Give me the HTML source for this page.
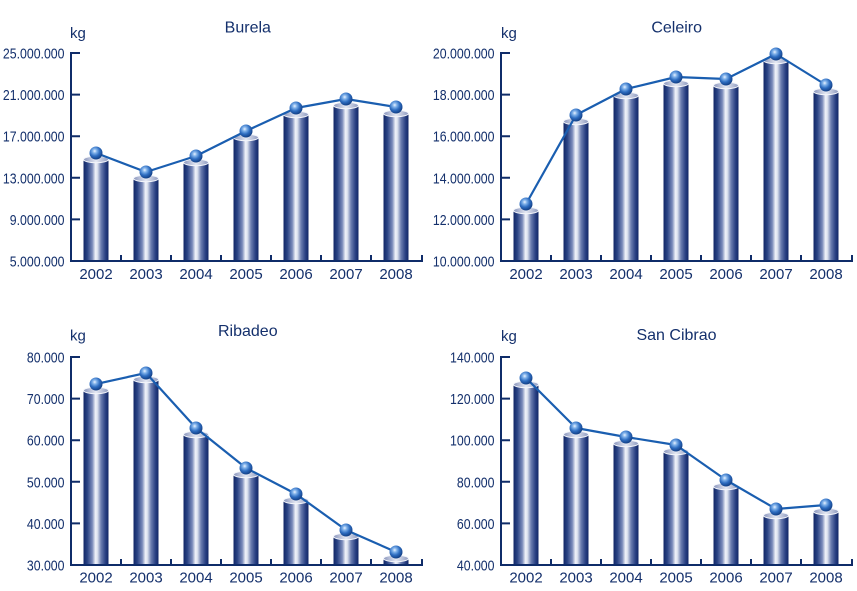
<!DOCTYPE html>
<html><head><meta charset="utf-8">
<style>
html,body{margin:0;padding:0;background:#fff;}
svg{display:block;}
text{font-family:"Liberation Sans",Arial,sans-serif;fill:#14306c;}
</style></head>
<body>
<svg width="857" height="591" viewBox="0 0 857 591" xmlns="http://www.w3.org/2000/svg">
<defs>
<linearGradient id="bar" x1="0" y1="0" x2="1" y2="0">
<stop offset="0" stop-color="#112766"/>
<stop offset="0.15" stop-color="#2a4384"/>
<stop offset="0.35" stop-color="#7a8aba"/>
<stop offset="0.48" stop-color="#f2f4fa"/>
<stop offset="0.56" stop-color="#dbe0ee"/>
<stop offset="0.70" stop-color="#6c7eb0"/>
<stop offset="0.88" stop-color="#283f82"/>
<stop offset="1" stop-color="#112766"/>
</linearGradient>
<linearGradient id="cap" x1="0" y1="0" x2="1" y2="0">
<stop offset="0" stop-color="#8a96bd"/>
<stop offset="0.5" stop-color="#e6e9f3"/>
<stop offset="1" stop-color="#8e9ac0"/>
</linearGradient>
<radialGradient id="ball" cx="0.4" cy="0.35" r="0.65">
<stop offset="0" stop-color="#eaf2ff"/>
<stop offset="0.25" stop-color="#80b2ea"/>
<stop offset="0.6" stop-color="#2e6dc1"/>
<stop offset="1" stop-color="#123f86"/>
</radialGradient>
</defs>

<!-- ================= BURELA ================= -->
<text x="247.8" y="32.5" font-size="16" text-anchor="middle">Burela</text>
<text x="70" y="38" font-size="15">kg</text>
<g font-size="15">
<text x="2.9" y="58.5" textLength="61.6" lengthAdjust="spacingAndGlyphs">25.000.000</text>
<text x="2.9" y="100.1" textLength="61.6" lengthAdjust="spacingAndGlyphs">21.000.000</text>
<text x="2.9" y="141.7" textLength="61.6" lengthAdjust="spacingAndGlyphs">17.000.000</text>
<text x="2.9" y="183.3" textLength="61.6" lengthAdjust="spacingAndGlyphs">13.000.000</text>
<text x="9.8" y="224.9" textLength="54.7" lengthAdjust="spacingAndGlyphs">9.000.000</text>
<text x="9.8" y="266.5" textLength="54.7" lengthAdjust="spacingAndGlyphs">5.000.000</text>
</g>
<g fill="url(#bar)">
<rect x="83.5" y="159.5" width="25" height="100.5"/>
<rect x="133.5" y="178.5" width="25" height="81.5"/>
<rect x="183.5" y="162.5" width="25" height="97.5"/>
<rect x="233.5" y="137.5" width="25" height="122.5"/>
<rect x="283.5" y="114.5" width="25" height="145.5"/>
<rect x="333.5" y="105.5" width="25" height="154.5"/>
<rect x="383.5" y="113.5" width="25" height="146.5"/>
</g>
<g fill="url(#cap)" stroke="#f4f6fb" stroke-width="1">
<ellipse cx="96" cy="159.5" rx="12.5" ry="3.2"/>
<ellipse cx="146" cy="178.5" rx="12.5" ry="3.2"/>
<ellipse cx="196" cy="162.5" rx="12.5" ry="3.2"/>
<ellipse cx="246" cy="137.5" rx="12.5" ry="3.2"/>
<ellipse cx="296" cy="114.5" rx="12.5" ry="3.2"/>
<ellipse cx="346" cy="105.5" rx="12.5" ry="3.2"/>
<ellipse cx="396" cy="113.5" rx="12.5" ry="3.2"/>
</g>
<polyline points="96,153 146,172 196,156 246,131 296,108 346,99 396,107" fill="none" stroke="#1a5eb0" stroke-width="2.2" stroke-linejoin="round"/>
<g fill="url(#ball)">
<circle cx="96" cy="153" r="6.5"/>
<circle cx="146" cy="172" r="6.5"/>
<circle cx="196" cy="156" r="6.5"/>
<circle cx="246" cy="131" r="6.5"/>
<circle cx="296" cy="108" r="6.5"/>
<circle cx="346" cy="99" r="6.5"/>
<circle cx="396" cy="107" r="6.5"/>
</g>
<g stroke="#0f2c69" stroke-width="2" fill="none">
<path d="M71,52 V262 M70,261 H423"/>
<path d="M71,53 H80 M71,94.6 H80 M71,136.2 H80 M71,177.8 H80 M71,219.4 H80"/>
<path d="M121,255 V261 M171,255 V261 M221,255 V261 M271,255 V261 M321,255 V261 M371,255 V261 M422,255 V261"/>
</g>
<g font-size="15" text-anchor="middle">
<text x="96" y="279">2002</text><text x="146" y="279">2003</text><text x="196" y="279">2004</text><text x="246" y="279">2005</text><text x="296" y="279">2006</text><text x="346" y="279">2007</text><text x="396" y="279">2008</text>
</g>

<!-- ================= CELEIRO ================= -->
<text x="676.7" y="32.5" font-size="16" text-anchor="middle">Celeiro</text>
<text x="501" y="38" font-size="15">kg</text>
<g font-size="15">
<text x="432.9" y="58.5" textLength="61.6" lengthAdjust="spacingAndGlyphs">20.000.000</text>
<text x="432.9" y="100.1" textLength="61.6" lengthAdjust="spacingAndGlyphs">18.000.000</text>
<text x="432.9" y="141.7" textLength="61.6" lengthAdjust="spacingAndGlyphs">16.000.000</text>
<text x="432.9" y="183.3" textLength="61.6" lengthAdjust="spacingAndGlyphs">14.000.000</text>
<text x="432.9" y="224.9" textLength="61.6" lengthAdjust="spacingAndGlyphs">12.000.000</text>
<text x="432.9" y="266.5" textLength="61.6" lengthAdjust="spacingAndGlyphs">10.000.000</text>
</g>
<g fill="url(#bar)">
<rect x="513.5" y="210.5" width="25" height="49.5"/>
<rect x="563.5" y="121.5" width="25" height="138.5"/>
<rect x="613.5" y="95.5" width="25" height="164.5"/>
<rect x="663.5" y="83.5" width="25" height="176.5"/>
<rect x="713.5" y="85.5" width="25" height="174.5"/>
<rect x="763.5" y="60.5" width="25" height="199.5"/>
<rect x="813.5" y="91.5" width="25" height="168.5"/>
</g>
<g fill="url(#cap)" stroke="#f4f6fb" stroke-width="1">
<ellipse cx="526" cy="210.5" rx="12.5" ry="3.2"/>
<ellipse cx="576" cy="121.5" rx="12.5" ry="3.2"/>
<ellipse cx="626" cy="95.5" rx="12.5" ry="3.2"/>
<ellipse cx="676" cy="83.5" rx="12.5" ry="3.2"/>
<ellipse cx="726" cy="85.5" rx="12.5" ry="3.2"/>
<ellipse cx="776" cy="60.5" rx="12.5" ry="3.2"/>
<ellipse cx="826" cy="91.5" rx="12.5" ry="3.2"/>
</g>
<polyline points="526,204 576,115 626,89 676,77 726,79 776,54 826,85" fill="none" stroke="#1a5eb0" stroke-width="2.2" stroke-linejoin="round"/>
<g fill="url(#ball)">
<circle cx="526" cy="204" r="6.5"/>
<circle cx="576" cy="115" r="6.5"/>
<circle cx="626" cy="89" r="6.5"/>
<circle cx="676" cy="77" r="6.5"/>
<circle cx="726" cy="79" r="6.5"/>
<circle cx="776" cy="54" r="6.5"/>
<circle cx="826" cy="85" r="6.5"/>
</g>
<g stroke="#0f2c69" stroke-width="2" fill="none">
<path d="M501,52 V262 M500,261 H853"/>
<path d="M501,53 H510 M501,94.6 H510 M501,136.2 H510 M501,177.8 H510 M501,219.4 H510"/>
<path d="M551,255 V261 M601,255 V261 M651,255 V261 M701,255 V261 M751,255 V261 M801,255 V261 M852,255 V261"/>
</g>
<g font-size="15" text-anchor="middle">
<text x="526" y="279">2002</text><text x="576" y="279">2003</text><text x="626" y="279">2004</text><text x="676" y="279">2005</text><text x="726" y="279">2006</text><text x="776" y="279">2007</text><text x="826" y="279">2008</text>
</g>

<!-- ================= RIBADEO ================= -->
<text x="247.8" y="336" font-size="16" text-anchor="middle">Ribadeo</text>
<text x="70" y="340.5" font-size="15">kg</text>
<g font-size="15">
<text x="26.9" y="362.5" textLength="37.6" lengthAdjust="spacingAndGlyphs">80.000</text>
<text x="26.9" y="404.1" textLength="37.6" lengthAdjust="spacingAndGlyphs">70.000</text>
<text x="26.9" y="445.7" textLength="37.6" lengthAdjust="spacingAndGlyphs">60.000</text>
<text x="26.9" y="487.3" textLength="37.6" lengthAdjust="spacingAndGlyphs">50.000</text>
<text x="26.9" y="528.9" textLength="37.6" lengthAdjust="spacingAndGlyphs">40.000</text>
<text x="26.9" y="570.5" textLength="37.6" lengthAdjust="spacingAndGlyphs">30.000</text>
</g>
<g fill="url(#bar)">
<rect x="83.5" y="390.5" width="25" height="173.5"/>
<rect x="133.5" y="379.5" width="25" height="184.5"/>
<rect x="183.5" y="434.5" width="25" height="129.5"/>
<rect x="233.5" y="474.5" width="25" height="89.5"/>
<rect x="283.5" y="500.5" width="25" height="63.5"/>
<rect x="333.5" y="536.5" width="25" height="27.5"/>
<rect x="383.5" y="558.5" width="25" height="5.5"/>
</g>
<g fill="url(#cap)" stroke="#f4f6fb" stroke-width="1">
<ellipse cx="96" cy="390.5" rx="12.5" ry="3.2"/>
<ellipse cx="146" cy="379.5" rx="12.5" ry="3.2"/>
<ellipse cx="196" cy="434.5" rx="12.5" ry="3.2"/>
<ellipse cx="246" cy="474.5" rx="12.5" ry="3.2"/>
<ellipse cx="296" cy="500.5" rx="12.5" ry="3.2"/>
<ellipse cx="346" cy="536.5" rx="12.5" ry="3.2"/>
<ellipse cx="396" cy="558.5" rx="12.5" ry="3.2"/>
</g>
<polyline points="96,384 146,373 196,428 246,468 296,494 346,530 396,552" fill="none" stroke="#1a5eb0" stroke-width="2.2" stroke-linejoin="round"/>
<g fill="url(#ball)">
<circle cx="96" cy="384" r="6.5"/>
<circle cx="146" cy="373" r="6.5"/>
<circle cx="196" cy="428" r="6.5"/>
<circle cx="246" cy="468" r="6.5"/>
<circle cx="296" cy="494" r="6.5"/>
<circle cx="346" cy="530" r="6.5"/>
<circle cx="396" cy="552" r="6.5"/>
</g>
<g stroke="#0f2c69" stroke-width="2" fill="none">
<path d="M71,356 V566 M70,565 H423"/>
<path d="M71,357 H80 M71,398.6 H80 M71,440.2 H80 M71,481.8 H80 M71,523.4 H80"/>
<path d="M121,559 V565 M171,559 V565 M221,559 V565 M271,559 V565 M321,559 V565 M371,559 V565 M422,559 V565"/>
</g>
<g font-size="15" text-anchor="middle">
<text x="96" y="582.5">2002</text><text x="146" y="582.5">2003</text><text x="196" y="582.5">2004</text><text x="246" y="582.5">2005</text><text x="296" y="582.5">2006</text><text x="346" y="582.5">2007</text><text x="396" y="582.5">2008</text>
</g>

<!-- ================= SAN CIBRAO ================= -->
<text x="676.5" y="340" font-size="16" text-anchor="middle">San Cibrao</text>
<text x="501" y="341" font-size="15">kg</text>
<g font-size="15">
<text x="450" y="362.5" textLength="44.5" lengthAdjust="spacingAndGlyphs">140.000</text>
<text x="450" y="404.1" textLength="44.5" lengthAdjust="spacingAndGlyphs">120.000</text>
<text x="450" y="445.7" textLength="44.5" lengthAdjust="spacingAndGlyphs">100.000</text>
<text x="456.9" y="487.3" textLength="37.6" lengthAdjust="spacingAndGlyphs">80.000</text>
<text x="456.9" y="528.9" textLength="37.6" lengthAdjust="spacingAndGlyphs">60.000</text>
<text x="456.9" y="570.5" textLength="37.6" lengthAdjust="spacingAndGlyphs">40.000</text>
</g>
<g fill="url(#bar)">
<rect x="513.5" y="384.5" width="25" height="179.5"/>
<rect x="563.5" y="434.5" width="25" height="129.5"/>
<rect x="613.5" y="443.5" width="25" height="120.5"/>
<rect x="663.5" y="451.5" width="25" height="112.5"/>
<rect x="713.5" y="486.5" width="25" height="77.5"/>
<rect x="763.5" y="515.5" width="25" height="48.5"/>
<rect x="813.5" y="511.5" width="25" height="52.5"/>
</g>
<g fill="url(#cap)" stroke="#f4f6fb" stroke-width="1">
<ellipse cx="526" cy="384.5" rx="12.5" ry="3.2"/>
<ellipse cx="576" cy="434.5" rx="12.5" ry="3.2"/>
<ellipse cx="626" cy="443.5" rx="12.5" ry="3.2"/>
<ellipse cx="676" cy="451.5" rx="12.5" ry="3.2"/>
<ellipse cx="726" cy="486.5" rx="12.5" ry="3.2"/>
<ellipse cx="776" cy="515.5" rx="12.5" ry="3.2"/>
<ellipse cx="826" cy="511.5" rx="12.5" ry="3.2"/>
</g>
<polyline points="526,378 576,428 626,437 676,445 726,480 776,509 826,505" fill="none" stroke="#1a5eb0" stroke-width="2.2" stroke-linejoin="round"/>
<g fill="url(#ball)">
<circle cx="526" cy="378" r="6.5"/>
<circle cx="576" cy="428" r="6.5"/>
<circle cx="626" cy="437" r="6.5"/>
<circle cx="676" cy="445" r="6.5"/>
<circle cx="726" cy="480" r="6.5"/>
<circle cx="776" cy="509" r="6.5"/>
<circle cx="826" cy="505" r="6.5"/>
</g>
<g stroke="#0f2c69" stroke-width="2" fill="none">
<path d="M501,356 V566 M500,565 H853"/>
<path d="M501,357 H510 M501,398.6 H510 M501,440.2 H510 M501,481.8 H510 M501,523.4 H510"/>
<path d="M551,559 V565 M601,559 V565 M651,559 V565 M701,559 V565 M751,559 V565 M801,559 V565 M852,559 V565"/>
</g>
<g font-size="15" text-anchor="middle">
<text x="526" y="582.5">2002</text><text x="576" y="582.5">2003</text><text x="626" y="582.5">2004</text><text x="676" y="582.5">2005</text><text x="726" y="582.5">2006</text><text x="776" y="582.5">2007</text><text x="826" y="582.5">2008</text>
</g>
</svg>
</body></html>
